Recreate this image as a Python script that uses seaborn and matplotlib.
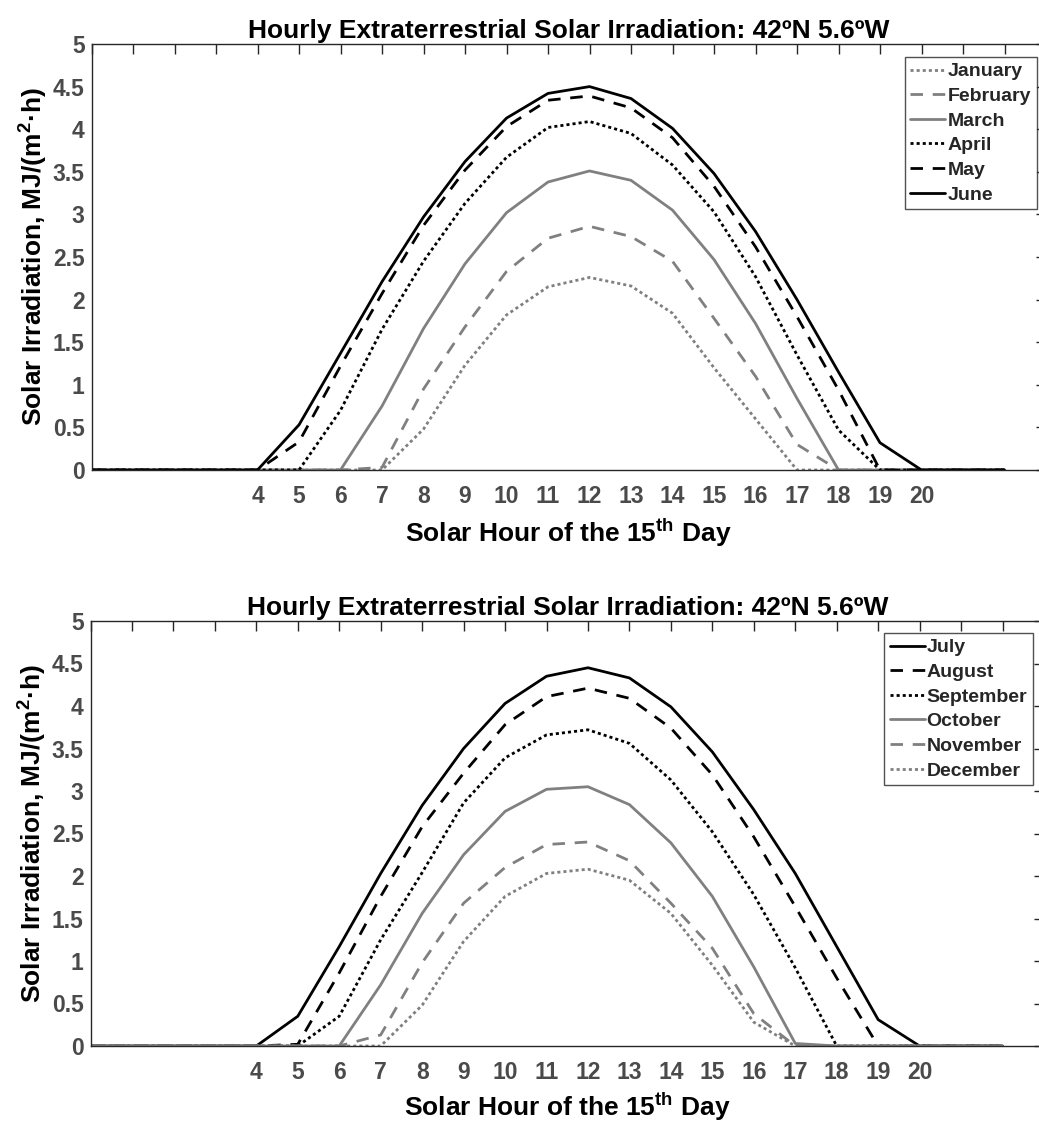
import numpy as np
import pandas as pd
import matplotlib
matplotlib.use('Agg')
import matplotlib.pyplot as plt
import seaborn as sns

# Solar hour (index) and irradiation values, MJ/(m2.h)
hours = list(range(0, 23))

jan = [0, 0, 0, 0, 0, 0, 0, 0, 0.48, 1.23, 1.82, 2.15, 2.26, 2.16, 1.84, 1.20, 0.60, 0, 0, 0, 0, 0, 0]
feb = [0, 0, 0, 0, 0, 0, 0, 0.03, 0.95, 1.68, 2.33, 2.72, 2.86, 2.74, 2.45, 1.78, 1.10, 0.30, 0, 0, 0, 0, 0]
mar = [0, 0, 0, 0, 0, 0, 0, 0.75, 1.66, 2.42, 3.02, 3.38, 3.51, 3.40, 3.05, 2.47, 1.72, 0.84, 0, 0, 0, 0, 0]
apr = [0, 0, 0, 0, 0, 0, 0.70, 1.65, 2.45, 3.13, 3.67, 4.02, 4.09, 3.95, 3.58, 3.03, 2.27, 1.35, 0.47, 0, 0, 0, 0]
may = [0, 0, 0, 0, 0, 0.33, 1.22, 2.07, 2.87, 3.52, 4.03, 4.34, 4.39, 4.25, 3.90, 3.33, 2.62, 1.80, 0.94, 0, 0, 0, 0]
jun = [0, 0, 0, 0, 0, 0.53, 1.37, 2.21, 2.97, 3.62, 4.13, 4.42, 4.50, 4.36, 4.01, 3.48, 2.80, 2.00, 1.15, 0.32, 0, 0, 0]

jul = [0, 0, 0, 0, 0, 0.35, 1.17, 2.03, 2.83, 3.50, 4.03, 4.35, 4.45, 4.33, 3.99, 3.46, 2.78, 2.03, 1.17, 0.31, 0, 0, 0]
aug = [0, 0, 0, 0, 0, 0.02, 0.86, 1.76, 2.58, 3.21, 3.78, 4.11, 4.21, 4.09, 3.74, 3.19, 2.46, 1.64, 0.80, 0, 0, 0, 0]
sep = [0, 0, 0, 0, 0, 0, 0.35, 1.25, 2.04, 2.86, 3.39, 3.66, 3.72, 3.56, 3.13, 2.52, 1.78, 0.92, 0, 0, 0, 0, 0]
octo = [0, 0, 0, 0, 0, 0, 0, 0.72, 1.56, 2.25, 2.76, 3.02, 3.05, 2.84, 2.39, 1.76, 0.93, 0.03, 0, 0, 0, 0, 0]
nov = [0, 0, 0, 0, 0, 0, 0, 0.13, 0.98, 1.68, 2.10, 2.37, 2.40, 2.18, 1.68, 1.15, 0.38, 0, 0, 0, 0, 0, 0]
dec = [0, 0, 0, 0, 0, 0, 0, 0, 0.48, 1.23, 1.76, 2.03, 2.08, 1.95, 1.56, 0.95, 0.28, 0, 0, 0, 0, 0, 0]

months_1 = ['January', 'February', 'March', 'April', 'May', 'June']
months_2 = ['July', 'August', 'September', 'October', 'November', 'December']
values_1 = [jan, feb, mar, apr, may, jun]
values_2 = [jul, aug, sep, octo, nov, dec]

GRAY = '#808080'
BLACK = '#000000'
DOT = (0, (1.1, 1.1))
DASH = (0, (4.5, 3.5))
styles_1 = [(GRAY, DOT), (GRAY, DASH), (GRAY, '-'), (BLACK, DOT), (BLACK, DASH), (BLACK, '-')]
styles_2 = [(BLACK, '-'), (BLACK, DASH), (BLACK, DOT), (GRAY, '-'), (GRAY, DASH), (GRAY, DOT)]

sns.set_theme(style='white')
plt.rcParams['font.family'] = ['Liberation Sans', 'DejaVu Sans']
plt.rcParams['font.weight'] = 'bold'
plt.rcParams['axes.labelweight'] = 'bold'
plt.rcParams['axes.titleweight'] = 'bold'
plt.rcParams['mathtext.fontset'] = 'custom'
plt.rcParams['mathtext.rm'] = 'Liberation Sans:bold'
plt.rcParams['mathtext.bf'] = 'Liberation Sans:bold'
plt.rcParams['mathtext.it'] = 'Liberation Sans:bold'
plt.rcParams['mathtext.default'] = 'bf'

fig = plt.figure(figsize=(10.39, 11.24), dpi=100)
ax1 = fig.add_axes([91.5 / 1039, 654 / 1124, 954.5 / 1039, 426 / 1124])
ax2 = fig.add_axes([90.5 / 1039, 78 / 1124, 953.5 / 1039, 425 / 1124])

title = 'Hourly Extraterrestrial Solar Irradiation: 42ºN 5.6ºW'
xlab = r'Solar Hour of the 15$^{\mathbf{th}}$ Day'
ylab = r'Solar Irradiation, MJ/(m$^{\mathbf{2}}$·h)'

xt = list(range(0, 24))
xtl = [str(h) if 4 <= h <= 20 else '' for h in xt]
yt = np.arange(0, 5.01, 0.5)
ytl = ['%g' % v for v in yt]

panels = [(ax1, months_1, values_1, styles_1, (1036.7 / 1039, 1 - 57 / 1124), 6),
          (ax2, months_2, values_2, styles_2, (1033 / 1039, 1 - 633 / 1124), 5)]

for ax, names, vals, sty, anchor, lpad in panels:
    for name, v, (col, ls) in zip(names, vals, sty):
        df = pd.DataFrame({'hour': hours, 'irr': v})
        sns.lineplot(data=df, x='hour', y='irr', ax=ax, color=col, linestyle=ls,
                     linewidth=2.0, label=name, legend=False)
    ax.set_xlim(0, 23)
    ax.set_ylim(0, 5)
    ax.set_xticks(xt)
    ax.set_xticklabels(xtl)
    ax.set_yticks(yt)
    ax.set_yticklabels(ytl)
    ax.tick_params(direction='in', length=7, width=1, top=True, right=True,
                   labelsize=16.5, labelcolor='#4a4a4a', color='#262626')
    ax.tick_params(axis='x', pad=11)
    ax.tick_params(axis='y', pad=5)
    for s in ax.spines.values():
        s.set_color('#262626')
        s.set_linewidth(1.0)
        s.set_visible(True)
    ax.set_title(title, fontsize=19, fontweight='bold', pad=4, color='black')
    ax.set_xlabel(xlab, fontsize=19, fontweight='bold', labelpad=lpad, color='black')
    ax.set_ylabel(ylab, fontsize=19, fontweight='bold', labelpad=2, color='black')
    leg = ax.legend(loc='upper right', bbox_to_anchor=anchor, bbox_transform=fig.transFigure,
                    fontsize=14, frameon=True, fancybox=False, handlelength=1.8,
                    handletextpad=0.1, labelspacing=0.36, borderpad=0.3, borderaxespad=0)
    leg.get_frame().set_edgecolor('#262626')
    leg.get_frame().set_linewidth(1.0)
    for t in leg.get_texts():
        t.set_fontweight('bold')

fig.savefig('out.png', dpi=100)
